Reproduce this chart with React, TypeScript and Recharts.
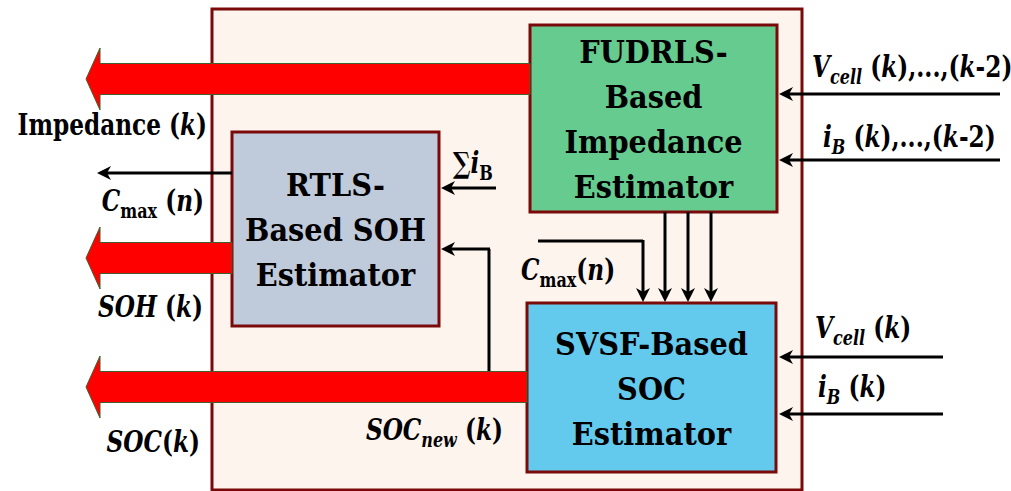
import React from 'react';
import { ComposedChart, XAxis, YAxis, ReferenceArea, ReferenceLine, ReferenceDot } from 'recharts';

const WIDTH = 1011;
const HEIGHT = 491;
const FONT = "'DejaVu Serif', serif";

// outer frame of the estimator
const FRAME = { x1: 212, x2: 802, y1: 9, y2: 490 };

// estimator blocks (diagram units = pixels of the reference)
const BLOCKS = [
  { id: 'fudrls', x1: 530, x2: 777, y1: 25, y2: 212, lines: ['FUDRLS-', 'Based', 'Impedance', 'Estimator'] },
  { id: 'rtls', x1: 232, x2: 439, y1: 132, y2: 326, lines: ['RTLS-', 'Based SOH', 'Estimator'] },
  { id: 'svsf', x1: 527, x2: 776, y1: 303, y2: 472, lines: ['SVSF-Based', 'SOC', 'Estimator'] },
];

// thick red output arrows: from block edge to tip
const OUTPUTS = [
  { from: [530, 79], to: [86, 79] },
  { from: [232, 258], to: [86, 258] },
  { from: [527, 387], to: [86, 387] },
];

// thin black signal links, head = arrow at the "to" end
const LINKS = [
  { from: [232, 173], to: [97, 173], head: true },
  { from: [496, 188], to: [441, 188], head: true },
  { from: [489, 371], to: [489, 249], head: false },
  { from: [490, 249], to: [441, 249], head: true },
  { from: [538, 241], to: [643, 241], head: false },
  { from: [643, 240], to: [643, 302], head: true },
  { from: [665, 212], to: [665, 302], head: true },
  { from: [688, 212], to: [688, 302], head: true },
  { from: [711, 212], to: [711, 302], head: true },
  { from: [1000, 94], to: [779, 94], head: true },
  { from: [1000, 160], to: [779, 160], head: true },
  { from: [943, 357], to: [779, 357], head: true },
  { from: [943, 414], to: [779, 414], head: true },
];

// signal labels; i = italic, s = subscript
type Part = { t: string; i?: boolean; s?: boolean };
const LABELS: { x: number; y: number; anchor: 'start' | 'end'; parts: Part[] }[] = [
  { x: 207, y: 135, anchor: 'end', parts: [{ t: 'Impedance (' }, { t: 'k', i: true }, { t: ')' }] },
  { x: 204, y: 211, anchor: 'end', parts: [{ t: 'C', i: true }, { t: 'max', s: true }, { t: ' (' }, { t: 'n', i: true }, { t: ')' }] },
  { x: 203, y: 317, anchor: 'end', parts: [{ t: 'SOH', i: true }, { t: ' (' }, { t: 'k', i: true }, { t: ')' }] },
  { x: 200, y: 452, anchor: 'end', parts: [{ t: 'SOC', i: true }, { t: '(' }, { t: 'k', i: true }, { t: ')' }] },
  { x: 453, y: 173, anchor: 'start', parts: [{ t: '∑' }, { t: 'i', i: true }, { t: 'B', s: true }] },
  { x: 503, y: 440, anchor: 'end', parts: [{ t: 'SOC', i: true }, { t: 'new', i: true, s: true }, { t: ' (' }, { t: 'k', i: true }, { t: ')' }] },
  { x: 521, y: 280, anchor: 'start', parts: [{ t: 'C', i: true }, { t: 'max', s: true }, { t: '(' }, { t: 'n', i: true }, { t: ')' }] },
  { x: 812, y: 77, anchor: 'start', parts: [{ t: 'V', i: true }, { t: 'cell', i: true, s: true }, { t: ' (' }, { t: 'k', i: true }, { t: '),...,(' }, { t: 'k', i: true }, { t: '-2)' }] },
  { x: 823, y: 147, anchor: 'start', parts: [{ t: 'i', i: true }, { t: 'B', i: true, s: true }, { t: ' (' }, { t: 'k', i: true }, { t: '),...,(' }, { t: 'k', i: true }, { t: '-2)' }] },
  { x: 815, y: 338, anchor: 'start', parts: [{ t: 'V', i: true }, { t: 'cell', i: true, s: true }, { t: ' (' }, { t: 'k', i: true }, { t: ')' }] },
  { x: 818, y: 397, anchor: 'start', parts: [{ t: 'i', i: true }, { t: 'B', i: true, s: true }, { t: ' (' }, { t: 'k', i: true }, { t: ')' }] },
];

const BLOCK_FILL: Record<string, string> = { fudrls: '#66cb8f', rtls: '#bfcadb', svsf: '#63caee' };
const BORDER = '#7a0a0a';
const LABEL_SIZE = 29;
const SUB_SIZE = 20;
const LABEL_SX = 0.8;
const BLOCK_SIZE = 31;
const BLOCK_SX = 0.93;
const LINE_GAP = 45;

const Block = (props: any) => {
  const { x, y, width, height, lines, fill } = props;
  const cx = x + width / 2;
  const cy = y + height / 2 + 1;
  return (
    <g>
      <rect x={x} y={y} width={width} height={height} fill={fill} stroke={BORDER} strokeWidth={3} />
      {lines.map((l: string, i: number) => (
        <text
          key={i}
          x={0}
          y={0}
          transform={`translate(${cx},${cy + (i - (lines.length - 1) / 2) * LINE_GAP + 11}) scale(${BLOCK_SX},1)`}
          textAnchor="middle"
          style={{ fontFamily: FONT, fontWeight: 'bold', fontSize: BLOCK_SIZE }}
          fill="#000"
        >
          {l}
        </text>
      ))}
    </g>
  );
};

const RedArrow = (props: any) => {
  const { x1, y1, x2 } = props;
  const dir = Math.sign(x2 - x1);
  const base = x2 - dir * 14;
  const sh = 15.5;
  const hh = 31;
  const pts = [
    [x1, y1 - sh], [base, y1 - sh], [base, y1 - hh], [x2, y1],
    [base, y1 + hh], [base, y1 + sh], [x1, y1 + sh],
  ].map((p) => p.join(',')).join(' ');
  return <polygon points={pts} fill="#ff0000" stroke="#3f5f2f" strokeWidth={1} />;
};

const Link = (props: any) => {
  const { x1, y1, x2, y2, head } = props;
  const len = Math.hypot(x2 - x1, y2 - y1) || 1;
  const ux = (x2 - x1) / len;
  const uy = (y2 - y1) / len;
  const hl = 14;
  const hw = 7;
  const ex = head ? x2 - ux * 10 : x2;
  const ey = head ? y2 - uy * 10 : y2;
  const bx = x2 - ux * hl;
  const by = y2 - uy * hl;
  const nx = x2 - ux * (hl - 4);
  const ny = y2 - uy * (hl - 4);
  const pts = [
    [x2, y2], [bx - uy * hw, by + ux * hw], [nx, ny], [bx + uy * hw, by - ux * hw],
  ].map((p) => p.join(',')).join(' ');
  return (
    <g>
      <line x1={x1} y1={y1} x2={ex} y2={ey} stroke="#000" strokeWidth={3} />
      {head && <polygon points={pts} fill="#000" />}
    </g>
  );
};

const RichLabel = (props: any) => {
  const { cx, cy, label } = props;
  let shift = 0;
  return (
    <text
      x={0}
      y={0}
      transform={`translate(${cx},${cy}) scale(${LABEL_SX},1)`}
      textAnchor={label.anchor}
      style={{ fontFamily: FONT, fontWeight: 'bold', fontSize: LABEL_SIZE }}
      fill="#000"
    >
      {label.parts.map((p: Part, i: number) => {
        const target = p.s ? 7 : 0;
        const dy = target - shift;
        shift = target;
        return (
          <tspan key={i} dy={dy} style={{ fontStyle: p.i ? 'italic' : 'normal', fontSize: p.s ? SUB_SIZE : LABEL_SIZE }}>
            {p.t}
          </tspan>
        );
      })}
    </text>
  );
};

export default function App() {
  return (
    <div style={{ position: 'absolute', left: 0, top: 0, background: '#fff', fontFamily: FONT }}>
      <ComposedChart width={WIDTH} height={HEIGHT} data={[]} margin={{ top: 0, right: 0, bottom: 0, left: 0 }}>
        <XAxis type="number" dataKey="x" domain={[0, WIDTH]} hide allowDataOverflow />
        <YAxis type="number" dataKey="y" domain={[0, HEIGHT]} reversed hide allowDataOverflow />
        <ReferenceArea
          x1={FRAME.x1}
          x2={FRAME.x2}
          y1={FRAME.y1}
          y2={FRAME.y2}
          fill="#fdf4ee"
          fillOpacity={1}
          stroke={BORDER}
          strokeWidth={3}
          ifOverflow="visible"
        />
        {OUTPUTS.map((a, i) => (
          <ReferenceLine
            key={`out-${i}`}
            segment={[{ x: a.from[0], y: a.from[1] }, { x: a.to[0], y: a.to[1] }]}
            ifOverflow="visible"
            shape={(p: any) => <RedArrow {...p} />}
          />
        ))}
        {BLOCKS.map((b) => (
          <ReferenceArea
            key={b.id}
            x1={b.x1}
            x2={b.x2}
            y1={b.y1}
            y2={b.y2}
            ifOverflow="visible"
            shape={(p: any) => <Block {...p} lines={b.lines} fill={BLOCK_FILL[b.id]} />}
          />
        ))}
        {LINKS.map((l, i) => (
          <ReferenceLine
            key={`link-${i}`}
            segment={[{ x: l.from[0], y: l.from[1] }, { x: l.to[0], y: l.to[1] }]}
            ifOverflow="visible"
            shape={(p: any) => <Link {...p} head={l.head} />}
          />
        ))}
        {LABELS.map((l, i) => (
          <ReferenceDot
            key={`lab-${i}`}
            x={l.x}
            y={l.y}
            r={0}
            ifOverflow="visible"
            shape={(p: any) => <RichLabel {...p} label={l} />}
          />
        ))}
      </ComposedChart>
    </div>
  );
}
